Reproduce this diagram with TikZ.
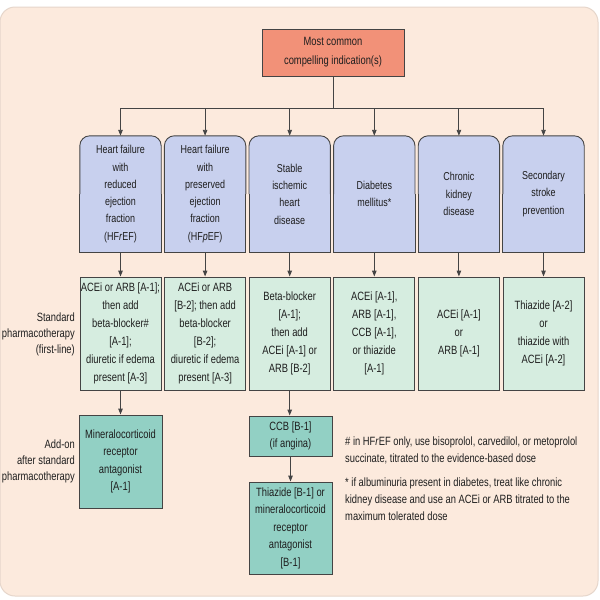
\documentclass[tikz,border=0pt]{standalone}
\usepackage{fontspec}
\setmainfont{Liberation Sans}[FakeStretch=0.78]
\usetikzlibrary{arrows.meta,backgrounds}
\definecolor{panelc}{HTML}{FCEADD}
\definecolor{paneledge}{HTML}{E6D6CB}
\definecolor{topc}{HTML}{F29178}
\definecolor{bluec}{HTML}{C8D0EE}
\definecolor{greenc}{HTML}{D6EDE0}
\definecolor{tealc}{HTML}{92D0C4}
\definecolor{bordc}{HTML}{444444}
\definecolor{txtc}{HTML}{1E1E1E}
\tikzset{
  basebox/.style={inner sep=0pt, align=center, text=txtc, minimum width=81pt},
  topbox/.style={basebox, draw=bordc, line width=0.9pt, fill=topc, minimum width=142pt, minimum height=47pt, font=\fontsize{12}{19}\selectfont},
  bluebox/.style={basebox, minimum height=116pt, font=\fontsize{11.5}{17.3}\selectfont},
  greenbox/.style={basebox, draw=bordc, line width=0.9pt, fill=greenc, minimum height=113pt, font=\fontsize{12}{18}\selectfont},
  tealbox/.style={basebox, draw=bordc, line width=0.9pt, fill=tealc, minimum width=83pt, font=\fontsize{12}{17.5}\selectfont},
  sidelabel/.style={inner sep=0pt, align=right, anchor=east, text=txtc, font=\fontsize{12}{16}\selectfont},
  footnote/.style={inner sep=0pt, align=left, anchor=west, text=txtc, font=\fontsize{12}{17.2}\selectfont},
  conn/.style={draw=bordc, line width=0.9pt},
  arr/.style={conn, -{Triangle[length=6pt,width=4.5pt]}},
}
\newcommand\topround[1]{%
  \fill[bluec, rounded corners=10pt] (#1.south west) rectangle (#1.north east);
  \fill[bluec] (#1.west) rectangle (#1.south east);
  \draw[conn, rounded corners=10pt] (#1.west) -- (#1.north west) -- (#1.north east) -- (#1.east);
  \draw[conn] (#1.west) -- (#1.south west) -- (#1.south east) -- (#1.east);
}
\begin{document}
\begin{tikzpicture}[x=1pt,y=-1pt]
\useasboundingbox (0,0) rectangle (600,600);
% top
\node[topbox] (top) at (333,52.5) {Most common\\compelling indication(s)};
\coordinate (bus) at (333,108);
% indications
\node[bluebox] (b1) at (120.5,194) {Heart failure\\with\\reduced\\ejection\\fraction\\(HF\textit{r}EF)};
\node[bluebox] (b2) at (205.1,194) {Heart failure\\with\\preserved\\ejection\\fraction\\(HF\textit{p}EF)};
\node[bluebox] (b3) at (289.7,194) {Stable\\ischemic\\heart\\disease};
\node[bluebox] (b4) at (374.3,194) {Diabetes\\mellitus*};
\node[bluebox] (b5) at (458.9,194) {Chronic\\kidney\\disease};
\node[bluebox] (b6) at (543.5,194) {Secondary\\stroke\\prevention};
% first line
\node[greenbox] (g1) at (120.5,333.5) {ACEi or ARB [A-1];\\then add\\beta-blocker\#\\{}[A-1];\\diuretic if edema\\present [A-3]};
\node[greenbox] (g2) at (205.1,333.5) {ACEi or ARB\\{}[B-2]; then add\\beta-blocker\\{}[B-2];\\diuretic if edema\\present [A-3]};
\node[greenbox] (g3) at (289.7,333.5) {Beta-blocker\\{}[A-1];\\then add\\ACEi [A-1] or\\ARB [B-2]};
\node[greenbox] (g4) at (374.3,333.5) {ACEi [A-1],\\ARB [A-1],\\CCB [A-1],\\or thiazide\\{}[A-1]};
\node[greenbox] (g5) at (458.9,333.5) {ACEi [A-1]\\or\\ARB [A-1]};
\node[greenbox] (g6) at (543.5,333.5) {Thiazide [A-2]\\or\\thiazide with\\ACEi [A-2]};
% add-on
\node[tealbox, minimum height=93pt] (m1) at (120.5,461.5) {Mineralocorticoid\\receptor\\antagonist\\{}[A-1]};
\node[tealbox, minimum height=40pt] (c3) at (290.5,436) {CCB [B-1]\\(if angina)};
\node[tealbox, minimum height=92pt] (t3) at (290.5,528) {Thiazide [B-1] or\\mineralocorticoid\\receptor\\antagonist\\{}[B-1]};
% side labels
\node[sidelabel] (lab1) at (75,334) {Standard\\pharmacotherapy\\(first-line)};
\node[sidelabel] (lab2) at (75,461) {Add-on\\after standard\\pharmacotherapy};
% footnotes
\node[footnote] (fn1) at (345,450.5) {\# in HF\textit{r}EF only, use bisoprolol, carvedilol, or metoprolol\\succinate, titrated to the evidence-based dose};
\node[footnote] (fn2) at (345,499.5) {* if albuminuria present in diabetes, treat like chronic\\kidney disease and use an ACEi or ARB titrated to the\\maximum tolerated dose};
% background
\begin{scope}[on background layer]
  \fill[white] (0,0) rectangle (600,600);
  \filldraw[fill=panelc, draw=paneledge, line width=1pt, rounded corners=15pt] (0,7) rectangle (598,596);
  \foreach \n in {b1,b2,b3,b4,b5,b6}{\topround{\n}}
\end{scope}
% connectors
\draw[conn] (top.south) -- (bus);
\foreach \n in {b1,b2,b3,b4,b5,b6}{\draw[arr] (bus) -| (\n.north);}
\foreach \i in {1,...,6}{\draw[arr] (b\i.south) -- (g\i.north);}
\draw[arr] (g1.south) -- (m1.north);
\draw[arr] (g3.south) -- (g3.south |- c3.north);
\draw[arr] (c3.south) -- (t3.north);
\end{tikzpicture}
\end{document}
